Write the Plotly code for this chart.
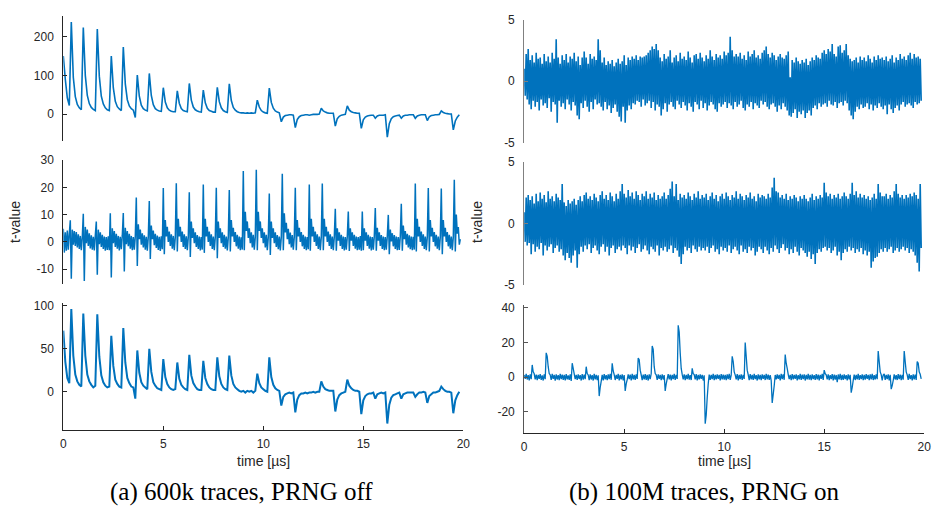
import numpy as np
import plotly.graph_objects as go

# ---------------- data (t-values) ----------------
# sample spacing of each trace in microseconds
STEP_COARSE = 0.1   # left top, left bottom
STEP_FINE = 0.05    # left middle, right top, right middle, right bottom

# (a) 600k traces, PRNG off -- top panel, t = 0.0 ... 19.8 us
lt_vals = [
    150, 90, 42, 22, 238, 95, 45, 25, 16, 11,
    224, 100, 48, 27, 17, 12, 9, 220, 98, 46,
    26, 16, 11, 9, 150, 68, 33, 19, 13, 9,
    173, 78, 37, 21, 14, 10, -9, 101, 46, 23,
    14, 10, 8, 105, 48, 24, 14, 10, 8, 7,
    68, 31, 16, 10, 7, 6, 6, 60, 28, 14,
    9, 7, 6, 79, 36, 18, 11, 8, 6, 5,
    62, 29, 15, 9, 7, 5, 5, 69, 32, 16,
    9, 6, 4, 78, 35, 17, 10, 6, 4, 3,
    3, 2, 3, 2, 3, 2, 3, 36, 18, 9,
    5, 3, 2, 67, 30, 15, 8, 5, 3, -20,
    -8, -4, -3, -2, -2, -3, -35, -14, -7, -4,
    -3, -2, -2, -3, -2, -1, -1, -1, 0, 15,
    8, 5, 3, 2, 2, 2, -31, -12, -6, -3,
    -2, -1, 21, 10, 6, 4, 3, 2, 2, -37,
    -15, -8, -5, -4, -3, -3, -11, -5, -3, -3,
    -3, -2, -60, -25, -12, -7, -5, -4, -3, -11,
    -5, -3, -3, -2, -2, -2, -11, -5, -3, -2,
    -2, -2, -17, -7, -4, -3, -2, -2, -1, 8,
    4, 2, 1, 0, 0, -41, -18, -8, -2,
]

# (a) middle panel, t = 0.00 ... 19.85 us
lm_vals = [
    4.8, -3.9, 3.5, -3.2, 4.2, -2.8, 3.0, 7.9, -13.5, 4.5, -1.0, 4.0, -1.5, 3.6, -2.0, 2.8, -2.6, 2.2, -3.0, 1.8,
    10.3, -14.3, 5.5, -0.5, 4.5, -1.5, 3.2, -2.4, 2.4, -2.8, 1.9, -3.1, 2.3, 7.5, -12.0, 4.5, -0.8, 3.5, -1.8, 2.6,
    -2.6, 2.0, -3.2, 1.8, -2.9, 2.1, -3.0, 10.5, -13.0, 5.0, -0.5, 4.0, -1.8, 3.0, -2.5, 2.2, -3.1, 1.9, -2.7, 2.3,
    10.6, -10.8, 5.2, -0.8, 4.0, -1.6, 3.0, -2.5, 2.2, -3.0, 1.8, -2.8, 2.1, 16.3, -8.8, 6.5, 1.0, 4.5, -1.0, 3.2,
    -2.0, 2.4, -2.8, 1.9, -3.2, 2.0, 15.0, -6.2, 6.0, 1.0, 4.2, -1.2, 3.0, -2.2, 2.3, -2.9, 1.9, -3.3, 2.1, -2.7,
    19.7, -4.5, 8.0, 2.0, 5.5, 0.0, 3.8, -1.5, 2.8, -2.5, 2.2, -3.0, 1.8, 21.5, -3.5, 8.5, 2.0, 5.5, 0.0, 3.8,
    -1.8, 2.8, -2.6, 2.1, -3.0, 1.9, 18.2, -5.5, 7.5, 1.5, 5.0, -0.5, 3.5, -1.8, 2.5, -2.6, 2.0, -3.1, 1.8, -2.8,
    21.0, -4.0, 8.5, 2.0, 5.5, 0.0, 3.8, -1.5, 2.8, -2.6, 2.0, -3.0, 1.9, 19.8, -6.0, 7.5, 1.5, 5.0, -0.5, 3.5,
    -1.8, 2.6, -2.5, 2.0, -3.1, 1.8, 19.0, -3.5, 8.0, 2.0, 5.2, 0.0, 3.6, -1.6, 2.6, -2.5, 2.0, -3.0, 1.7, -2.8,
    26.0, -3.0, 11.0, 4.0, 7.5, 1.5, 5.0, -0.5, 3.5, -2.0, 2.6, -2.8, 1.9, 26.4, -3.0, 11.0, 4.0, 7.5, 1.5, 5.0,
    -0.5, 3.5, -2.0, 2.6, -3.0, 1.9, 17.7, -4.8, 7.5, 1.5, 5.0, -0.5, 3.5, -1.8, 2.5, -2.7, 2.0, -3.1, 1.8, 25.0,
    -3.0, 10.5, 3.5, 7.0, 1.0, 4.8, -0.8, 3.4, -2.0, 2.5, -2.8, 1.9, 19.8, -3.0, 8.0, 2.0, 5.2, 0.0, 3.6, -1.6,
    2.6, -2.6, 2.0, -3.0, 1.8, -2.7, 21.0, -3.2, 8.5, 2.0, 5.5, 0.0, 3.8, -1.5, 2.8, -2.6, 2.0, -3.0, 1.9, 21.4,
    -3.0, 8.5, 2.0, 5.5, 0.0, 3.8, -1.5, 2.8, -2.6, 2.0, -3.0, 1.9, 12.1, -3.2, 5.0, 0.5, 3.5, -1.5, 2.6, -2.6,
    2.0, -3.1, 1.8, -2.8, 2.1, 11.1, -3.3, 5.0, 0.5, 3.5, -1.5, 2.6, -2.5, 2.0, -3.0, 1.8, -2.8, 2.2, -3.2, 11.1,
    -3.0, 5.0, 0.5, 3.5, -1.5, 2.6, -2.5, 2.0, -3.1, 1.8, -2.8, 2.2, 12.4, -3.2, 5.2, 0.5, 3.5, -1.5, 2.5, -2.6,
    2.0, -3.0, 1.8, -2.8, 2.2, 9.9, -4.5, 4.5, 0.2, 3.2, -1.6, 2.5, -2.6, 2.0, -3.0, 1.8, -2.9, 2.1, 14.0, -3.2,
    6.0, 1.0, 4.0, -1.0, 3.0, -2.0, 2.4, -2.7, 2.0, -3.0, 1.9, -2.8, 21.4, -3.5, 8.5, 2.0, 5.5, 0.0, 3.8, -1.5,
    2.8, -2.6, 2.0, -3.0, 1.9, 19.7, -3.5, 8.0, 2.0, 5.2, 0.0, 3.6, -1.6, 2.6, -2.5, 2.0, -3.0, 1.8, 19.6, -4.5,
    8.0, 2.0, 5.2, 0.0, 3.6, -1.6, 2.6, -2.5, 2.0, -3.0, 1.8, 22.8, -3.5, 10.0, 3.0, 5.5, -1.0, 1.0,
]

# (a) bottom panel, t = 0.0 ... 19.8 us
lb_vals = [
    71, 35, 16, 10, 96, 42, 20, 12, 8, 6,
    91, 42, 20, 12, 8, 5, 7, 90, 41, 19,
    11, 7, 5, 6, 65, 30, 14, 9, 6, 5,
    74, 34, 16, 10, 6, 5, -8, 48, 22, 11,
    7, 5, 3, 50, 23, 11, 7, 4, 3, 2,
    38, 17, 9, 5, 3, 2, 3, 34, 15, 8,
    5, 3, 2, 43, 19, 10, 6, 3, 2, 2,
    36, 16, 9, 5, 3, 2, 2, 40, 18, 9,
    5, 3, 2, 42, 19, 9, 5, 3, 1, 0,
    1, -1, 1, 0, 1, -1, 1, 21, 10, 5,
    3, 1, 0, 40, 17, 8, 4, 2, 1, -16,
    -6, -3, -2, -1, -2, -1, -24, -9, -4, -2,
    -2, -1, -2, -1, -1, 0, -1, 0, 0, 12,
    6, 3, 2, 1, 1, 1, -23, -9, -4, -2,
    -1, 0, 14, 7, 4, 2, 1, 1, 0, -26,
    -10, -5, -3, -2, -2, -1, -8, -3, -2, -1,
    -2, -1, -37, -15, -7, -4, -3, -2, -1, -8,
    -3, -2, -1, -1, -1, -1, -6, -3, -1, -1,
    0, -1, -13, -5, -3, -1, -1, 0, 1, 6,
    3, 1, 0, 0, -1, -25, -10, -4, 0,
]

# (b) 100M traces, PRNG on -- top panel, t = 0.00 ... 19.85 us
rt_vals = [
    1.0, -1.2, 2.2, -1.5, 2.6, -1.9, 1.7, -2.3, 2.1, -1.6, 1.5, -2.1, 2.3, -1.7, 1.8, -2.4, 1.9, -1.5, 1.4, -2.0,
    2.2, -1.8, 1.6, -2.2, 2.0, -1.4, 1.5, -2.5, 2.3, -1.7, 1.8, -1.9, 3.4, -3.4, 1.9, -1.6, 1.4, -2.1, 2.1, -1.8,
    1.7, -2.3, 2.2, -1.5, 1.5, -1.9, 2.0, -2.4, 1.8, -1.7, 2.3, -2.0, 1.6, -2.8, 2.0, -3.1, 1.3, -1.8, 1.9, -2.2,
    2.4, -1.6, 1.9, -2.1, 1.4, -2.5, 2.2, -1.7, 1.8, -2.3, 2.0, -1.5, 1.7, -1.9, 3.4, -1.8, 2.5, -2.1, 1.5, -2.4,
    1.9, -1.7, 1.3, -2.3, 1.6, -2.0, 1.4, -2.6, 1.7, -2.2, 1.2, -1.9, 1.5, -2.5, 1.8, -2.9, 1.4, -3.3, 1.6, -2.1,
    2.1, -3.4, 1.3, -2.4, 1.9, -2.0, 1.7, -2.3, 2.0, -1.8, 1.8, -1.9, 2.1, -1.6, 1.7, -1.7, 2.0, -2.1, 1.9, -1.5,
    2.0, -2.0, 2.1, -1.8, 2.3, -1.6, 2.5, -2.2, 2.8, -1.7, 2.6, -2.4, 3.0, -1.9, 2.5, -2.1, 1.9, -2.8, 1.6, -2.3,
    2.2, -1.8, 1.8, -2.5, 2.0, -1.9, 2.5, -1.7, 1.5, -2.1, 1.9, -2.3, 2.1, -1.6, 1.6, -1.9, 2.3, -2.2, 1.8, -1.7,
    2.0, -2.0, 1.7, -2.4, 2.4, -1.8, 1.9, -2.1, 1.5, -2.5, 2.1, -1.7, 2.2, -1.9, 1.8, -2.3, 2.3, -1.6, 1.9, -2.2,
    1.6, -1.8, 2.1, -2.4, 1.8, -2.0, 2.5, -1.7, 2.0, -1.9, 1.7, -2.3, 2.2, -2.5, 1.9, -1.8, 2.1, -2.1, 1.8, -1.9,
    2.4, -1.7, 2.1, -2.2, 2.3, -1.8, 3.6, -2.0, 2.5, -2.3, 2.0, -1.7, 2.2, -2.1, 2.0, -1.9, 2.3, -1.6, 1.8, -2.2,
    2.1, -2.4, 1.7, -1.9, 2.4, -2.1, 2.0, -1.7, 2.2, -2.3, 2.5, -1.8, 1.9, -2.0, 2.1, -2.2, 1.8, -1.6, 2.3, -1.9,
    2.5, -1.7, 2.8, -2.1, 2.2, -2.3, 1.9, -1.9, 2.3, -1.8, 2.1, -2.1, 1.7, -2.5, 2.0, -2.0, 2.2, -2.3, 1.9, -1.8,
    1.8, -2.1, 2.1, -2.4, 2.4, -2.8, 0.3, -2.9, 1.7, -2.6, 1.5, -2.3, 1.9, -3.0, 1.6, -2.5, 1.4, -2.7, 1.7, -2.4,
    1.5, -3.0, 1.8, -2.6, 1.3, -2.4, 1.6, -2.8, 1.9, -2.2, 1.7, -2.0, 2.1, -2.3, 1.9, -1.8, 1.8, -2.1, 2.3, -1.9,
    2.5, -1.8, 2.2, -2.1, 2.6, -1.6, 2.4, -1.9, 3.0, -2.0, 2.2, -1.7, 2.0, -2.2, 2.8, -1.8, 2.9, -1.7, 2.3, -2.0,
    2.5, -1.6, 3.0, -1.8, 2.1, -2.4, 1.8, -2.8, 1.6, -3.1, 1.7, -2.5, 1.9, -2.1, 1.5, -2.3, 2.0, -1.9, 1.7, -2.2,
    1.9, -2.1, 1.6, -1.8, 2.1, -2.3, 1.8, -1.9, 1.5, -2.4, 2.0, -2.0, 1.7, -2.2, 2.1, -1.8, 1.8, -2.1, 1.9, -2.3,
    1.7, -2.0, 2.0, -2.7, 1.6, -1.9, 1.8, -2.3, 2.1, -2.6, 1.5, -2.2, 1.9, -2.0, 1.7, -2.4, 2.2, -1.9, 1.8, -1.7,
    2.0, -2.1, 1.7, -1.9, 2.1, -1.8, 2.3, -2.0, 1.8, -2.2, 2.2, -1.7, 1.9, -1.9, 2.0, -1.8, 1.8, -1.6,
]

# (b) middle panel, t = 0.00 ... 19.85 us
rm_vals = [
    0.9, -1.5, 2.1, -1.8, 2.3, -1.6, 1.9, -2.5, 2.2, -1.7, 1.6, -2.3, 2.4, -1.9, 1.8, -2.1, 2.5, -1.6, 2.0, -2.6,
    2.3, -1.8, 1.7, -2.2, 2.6, -1.9, 2.0, -1.7, 2.2, -2.4, 1.8, -2.0, 2.4, -1.8, 2.1, -2.3, 1.9, -2.1, 3.2, -2.6,
    1.7, -3.0, 1.4, -2.4, 1.9, -2.8, 1.6, -3.2, 1.8, -2.6, 2.0, -2.2, 1.5, -3.6, 1.9, -2.5, 2.2, -1.9, 1.8, -2.3,
    2.3, -1.8, 2.5, -2.1, 2.0, -1.7, 2.2, -2.4, 1.9, -2.0, 2.4, -1.8, 2.1, -2.2, 1.8, -2.5, 2.3, -1.9, 2.6, -1.7,
    2.0, -2.3, 2.3, -1.9, 1.9, -2.6, 2.5, -2.0, 2.2, -1.8, 1.8, -2.4, 2.4, -2.1, 2.0, -1.9, 2.6, -2.2, 3.2, -1.8,
    2.4, -2.0, 2.1, -2.5, 2.7, -1.8, 2.2, -2.2, 2.5, -1.9, 2.0, -2.4, 2.6, -2.0, 2.3, -1.7, 1.9, -2.3, 2.4, -2.1,
    2.2, -1.8, 2.6, -2.2, 2.0, -2.5, 2.4, -1.9, 2.1, -2.1, 2.5, -2.3, 1.9, -1.8, 2.3, -2.6, 2.0, -2.0, 2.2, -2.2,
    2.5, -1.9, 2.0, -2.3, 2.3, -2.1, 2.8, -1.8, 3.4, -2.4, 2.2, -2.0, 3.2, -2.2, 1.9, -2.7, 2.4, -3.3, 2.1, -2.5,
    2.3, -1.9, 2.0, -2.2, 2.5, -2.0, 2.2, -2.4, 1.9, -1.8, 2.4, -2.1, 2.1, -2.3, 2.6, -1.9, 2.0, -2.2, 2.3, -2.0,
    2.1, -2.2, 2.4, -1.9, 1.9, -2.4, 2.2, -2.0, 2.5, -1.8, 2.0, -2.3, 2.3, -2.1, 1.8, -2.5, 2.2, -1.9, 2.4, -2.2,
    2.0, -2.0, 2.5, -2.3, 2.2, -1.8, 1.9, -2.4, 2.3, -2.1, 2.1, -1.9, 2.6, -2.2, 2.0, -2.5, 2.4, -1.8, 2.2, -2.3,
    1.9, -2.1, 2.3, -2.4, 2.1, -1.9, 2.5, -2.2, 2.0, -2.0, 2.2, -2.6, 1.8, -2.3, 2.4, -1.9, 2.1, -2.1, 2.3, -2.4,
    2.2, -1.9, 2.0, -2.2, 2.4, -2.5, 2.1, -2.0, 2.9, -2.3, 3.7, -1.8, 2.6, -2.1, 2.5, -2.4, 2.1, -2.0, 2.3, -1.7,
    2.0, -2.2, 2.4, -2.0, 1.9, -2.5, 2.2, -2.1, 2.0, -2.4, 2.3, -1.9, 2.1, -2.3, 1.8, -2.6, 2.2, -2.0, 2.0, -2.2,
    2.3, -2.4, 2.0, -2.7, 1.8, -2.3, 2.1, -2.9, 2.4, -2.5, 1.9, -3.3, 2.2, -2.4, 2.0, -2.1, 2.3, -2.3, 2.1, -2.0,
    3.3, -1.9, 2.5, -2.2, 2.2, -2.0, 2.4, -2.4, 2.0, -2.2, 2.3, -1.9, 2.1, -2.6, 2.4, -2.3, 2.0, -3.0, 2.2, -2.4,
    2.5, -2.1, 2.2, -2.3, 2.0, -1.9, 2.4, -2.2, 3.3, -2.0, 2.3, -2.4, 2.6, -2.1, 2.1, -2.3, 2.4, -2.0, 2.1, -2.5,
    2.3, -2.2, 2.0, -2.6, 2.2, -2.3, 1.9, -3.6, 2.1, -3.1, 2.4, -2.8, 2.0, -2.7, 3.2, -2.4, 2.5, -2.1, 2.2, -2.3,
    2.2, -2.0, 2.4, -2.3, 2.0, -2.1, 2.3, -1.9, 2.1, -2.4, 2.6, -2.2, 3.2, -2.0, 2.4, -2.3, 2.1, -2.1, 2.3, -1.9,
    2.0, -2.2, 2.3, -2.0, 2.1, -2.4, 2.4, -2.1, 2.2, -2.3, 2.5, -2.6, 2.3, -3.2, 2.0, -3.9, 3.2, -2.0,
]

# (b) bottom panel, t = 0.00 ... 19.85 us
rb_vals = [
    1.2, -1.0, 1.8, -1.4, 1.1, -1.9, 1.6, -1.2, 7.0, 3.0, 1.9, -1.3, 1.4, -1.8, 1.2, -1.1, 1.7, -1.6, 1.0, -2.0,
    1.5, -1.2, 14.0, 12.0, 6.0, 2.0, 1.3, -1.7, 1.8, -1.1, 1.2, -2.1, 1.6, -1.4, 1.1, -1.8, 1.9, -1.2, 1.4, -1.6,
    1.2, -1.9, 1.7, -1.3, 1.0, -1.6, 1.5, -2.2, 8.0, 5.0, 1.8, -1.2, 1.3, -1.7, 1.6, -1.1, 1.1, -2.0, 1.7, -1.5,
    1.4, -1.2, 6.0, 2.0, 1.2, -1.8, 1.6, -1.4, 1.1, -2.0, 1.8, -1.3, 1.2, -1.7, 1.0, -11.0, -6.0, -2.5, 1.3, -1.9,
    1.7, -1.3, 1.1, -1.8, 1.5, -1.2, 1.9, -1.6, 8.0, 3.5, 1.4, -1.7, 1.2, -1.1, 1.8, -2.0, 1.3, -1.4, 1.6, -1.9,
    1.1, -8.0, -4.0, -1.5, 1.6, -1.2, 1.4, -1.9, 1.8, -1.3, 1.2, -1.6, 1.5, -1.1, 11.0, 10.0, 4.0, 1.2, -1.8, 1.4,
    -1.3, 1.7, -1.6, 1.2, -2.0, 1.5, -1.2, 1.9, 18.0, 16.0, 6.0, 2.0, 1.3, -1.7, 1.6, -1.1, 1.2, -1.8, 1.5, -1.4,
    1.1, -8.0, -4.0, -1.0, 1.7, -1.3, 1.4, -1.9, 1.2, -1.2, 1.8, -1.6, 1.3, -1.1, 30.0, 26.0, 14.0, 5.0, 1.5, -1.4,
    1.6, -1.8, 1.2, -1.2, 1.9, -1.5, 1.1, -1.7, 5.0, 2.0, 1.4, -1.3, 1.7, -1.9, 1.2, -1.4, 1.5, -1.1, 1.3, -2.0,
    1.0, -27.0, -22.0, -12.0, -4.0, 1.4, -1.6, 1.2, -1.2, 1.8, -1.8, 1.3, -1.4, 1.6, -1.1, 1.2, -1.9, 1.7, -1.3, 1.4,
    -1.5, 1.2, -1.8, 1.6, -1.2, 1.9, -1.6, 1.1, 12.0, 9.0, 3.0, 1.3, -1.4, 1.7, -1.9, 1.2, -1.2, 1.5, -1.7, 1.3,
    -1.1, 20.0, 12.0, 4.0, 1.4, -1.8, 1.7, -1.3, 1.2, -1.6, 1.8, -1.2, 1.1, -2.0, 1.5, -1.4, 1.3, -1.8, 1.6, -1.1,
    1.2, -1.7, 1.9, -1.3, 1.4, -1.6, 1.1, -2.0, -15.0, -10.0, -5.0, 1.2, -1.4, 1.6, -1.1, 1.3, -1.9, 1.8, -1.2, 1.5,
    -1.6, 13.0, 8.0, 5.0, 1.6, -1.2, 1.3, -1.8, 1.7, -1.4, 1.2, -1.1, 1.5, -1.9, 1.1, -1.3, 1.8, -1.6, 1.4, -1.2,
    1.6, -2.0, 1.2, -1.3, 1.9, -1.5, 1.3, -1.8, 1.5, -1.2, 1.1, -1.6, 1.7, -1.4, 1.4, -1.9, 1.2, -1.1, 1.8, -1.7,
    4.0, 2.0, 1.3, -1.4, 1.6, -1.8, 1.1, -1.2, 1.7, -1.9, 1.4, -1.5, 1.2, -3.0, 1.5, -1.3, 1.8, -1.7, 1.2, -1.6,
    1.5, -1.2, 1.1, -1.9, 1.6, -1.4, 1.3, -9.0, -6.0, -2.0, 1.4, -1.7, 1.2, -1.3, 1.8, -1.6, 1.1, -1.2, 1.6, -1.8,
    1.3, -1.5, 1.7, -1.1, 1.2, -1.8, 1.5, -1.3, 1.9, -1.7, 1.1, -1.4, 1.6, -1.2, 15.0, 9.0, 3.0, 1.4, -1.9, 1.2,
    1.8, -1.6, 1.2, -1.2, 1.5, -1.9, 1.3, -7.0, -5.0, -2.0, 1.6, -1.4, 1.1, -1.7, 1.7, -1.2, 1.4, -1.8, 1.2, -1.5,
    15.0, 9.0, 3.0, 1.3, -1.6, 1.8, -1.2, 1.1, -1.9, 1.5, -1.3, 1.4, -1.7, 9.0, 8.0, 3.0, 1.6, -1.0,
]

x_ticks = [0, 5, 10, 15, 20]
lt_ticks = [0, 100, 200]
lm_ticks = [-10, 0, 10, 20, 30]
lb_ticks = [0, 50, 100]
r_ticks = [-5, 0, 5]
rb_ticks = [-20, 0, 20, 40]

caption_a = "(a) 600k traces, PRNG off"
caption_b = "(b) 100M traces, PRNG on"

# ---------------- figure ----------------
W, H = 935, 513
BLUE = "#0072BD"
DARK = "#262626"
FONT = "Liberation Sans, Arial, sans-serif"


def px_x(p):
    return p / W


def px_y(p):
    return 1 - p / H


LX = [px_x(63.3), px_x(463.3)]
RX = [px_x(524.2), px_x(924.2)]

panels = [
    # values, step, x-domain, (top px, bottom px), y range, ticks, line w, ycolor, bottom?
    (lt_vals, STEP_COARSE, LX, (16, 140.7), [-69, 253.5], lt_ticks, 1.6, DARK, False),
    (lm_vals, STEP_FINE, LX, (160, 284), [-15.4, 30], lm_ticks, 1.5, DARK, False),
    (lb_vals, STEP_COARSE, LX, (302.7, 430), [-44.5, 103.5], lb_ticks, 2.0, DARK, True),
    (rt_vals, STEP_FINE, RX, (19.5, 142.5), [-5, 5], r_ticks, 1.6, "#808080", False),
    (rm_vals, STEP_FINE, RX, (161.7, 285), [-5, 5], r_ticks, 1.6, "#808080", False),
    (rb_vals, STEP_FINE, RX, (305, 432.7), [-32.2, 41.7], rb_ticks, 1.3, "#555555", True),
]

fig = go.Figure()
layout = {}
for i, (vals, step, xdom, (ytop, ybot), yr, yt, lw, ycol, bottom) in enumerate(panels, start=1):
    suffix = "" if i == 1 else str(i)
    t = np.round(np.arange(len(vals)) * step, 4)
    fig.add_trace(go.Scatter(
        x=t, y=vals, mode="lines",
        line=dict(color=BLUE, width=lw, simplify=False),
        xaxis="x" + suffix, yaxis="y" + suffix,
        showlegend=False, hoverinfo="skip",
    ))
    xa = dict(domain=xdom, range=[0, 20], anchor="y" + suffix,
              showgrid=False, zeroline=False, automargin=False)
    if bottom:
        xa.update(showline=True, linecolor=DARK, linewidth=1,
                  ticks="inside", ticklen=4, tickwidth=1, tickcolor=DARK,
                  tickvals=x_ticks, ticktext=[str(v) for v in x_ticks],
                  tickfont=dict(family=FONT, size=12, color=DARK),
                  ticklabelstandoff=3)
    else:
        xa.update(visible=False)
    ya = dict(domain=[px_y(ybot), px_y(ytop)], range=yr, anchor="x" + suffix,
              showgrid=False, zeroline=False, automargin=False,
              showline=True, linecolor=ycol, linewidth=1,
              ticks="inside", ticklen=4, tickwidth=1, tickcolor=ycol,
              tickvals=yt, ticktext=[str(v) for v in yt],
              tickfont=dict(family=FONT, size=12, color=DARK),
              ticklabelstandoff=6)
    layout["xaxis" + suffix] = xa
    layout["yaxis" + suffix] = ya

annotations = [
    dict(text="t-value", x=px_x(15), y=px_y(222), textangle=-90,
         font=dict(family=FONT, size=14, color=DARK)),
    dict(text="t-value", x=px_x(477), y=px_y(222), textangle=-90,
         font=dict(family=FONT, size=14, color=DARK)),
    dict(text="time [µs]", x=px_x(263.3), y=px_y(461),
         font=dict(family=FONT, size=14, color=DARK)),
    dict(text="time [µs]", x=px_x(724.2), y=px_y(461),
         font=dict(family=FONT, size=14, color=DARK)),
    dict(text=caption_a, x=px_x(241), y=px_y(492),
         font=dict(family="Liberation Serif, serif", size=25, color="black")),
    dict(text=caption_b, x=px_x(704), y=px_y(492),
         font=dict(family="Liberation Serif, serif", size=25, color="black")),
]
for a in annotations:
    a.update(xref="paper", yref="paper", showarrow=False,
             xanchor="center", yanchor="middle")

fig.update_layout(
    width=W, height=H,
    margin=dict(l=0, r=0, t=0, b=0, pad=0),
    paper_bgcolor="white", plot_bgcolor="white",
    annotations=annotations,
    hovermode=False,
    **layout,
)

# the page's default 8 px body margin would shift the 935x513 figure
fig.write_html(
    "out.html",
    config={"displayModeBar": False, "staticPlot": True},
    post_script="document.body.style.margin='0';document.body.style.overflow='hidden';",
)
